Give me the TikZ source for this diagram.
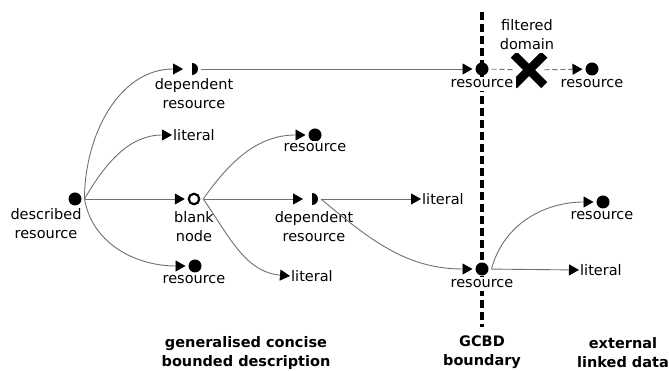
\documentclass[tikz,border=0pt]{standalone}
\usepackage{fontspec}
\setmainfont{DejaVu Sans}
\usepackage{xcolor}
\usetikzlibrary{arrows.meta,shapes.misc}
\definecolor{linkgray}{HTML}{707070}
\newcommand{\picfont}{\fontsize{14.5}{19}\selectfont}
\tikzset{
  link/.style={draw=linkgray, line width=0.9pt, -{Triangle[length=10pt,width=11pt,color=black]}},
  filtered/.style={link, dash pattern=on 5pt off 3pt},
  boundary/.style={draw=black, line width=3.5pt, dash pattern=on 8pt off 4pt},
  resdot/.style={circle, fill=black, minimum size=13pt, inner sep=0pt, outer sep=3pt},
  blankdot/.style={circle, draw=black, line width=2.2pt, fill=white, minimum size=10.5pt, inner sep=0pt, outer sep=4pt},
  halfdot/.style={circle, minimum size=12pt, inner sep=0pt, outer sep=3pt,
    path picture={\fill[black] (path picture bounding box.north) arc[start angle=90,end angle=-90,radius=6pt] -- cycle;}},
  litnode/.style={anchor=west, inner sep=1pt},
  lab/.style={align=center, inner sep=3pt, fill=white},
  heading/.style={align=center, inner sep=0pt, font=\picfont\bfseries},
  cut/.style={cross out, draw=black, line width=8.5pt, minimum size=22pt, inner sep=0pt},
}

\begin{document}
\begin{tikzpicture}[x=1pt,y=1pt,font=\picfont]
\useasboundingbox (0,0) rectangle (669,371);

% GCBD boundary
\coordinate (btop) at (482,359);
\coordinate (bbot) at (482,44);
\draw[boundary] (btop) -- (bbot);

% resources and literals
\node[resdot] (desc) at (75,172) {};
\node[halfdot] (dep1) at (192,302) {};
\node[litnode] (lit1) at (172,236) {literal};
\node[resdot] (res1) at (315,236) {};
\node[blankdot] (blank) at (194,172) {};
\node[resdot] (res2) at (195,105) {};
\node[halfdot] (dep2) at (312,172) {};
\node[litnode] (lit2) at (290,95) {literal};
\node[resdot] (res3) at (482,302) {};
\node[cut] (cross) at (529,301) {};
\node[resdot] (res4) at (592,302) {};
\node[litnode] (lit3) at (421,172) {literal};
\node[resdot] (res5) at (482,102) {};
\node[resdot] (res6) at (603,169) {};
\node[litnode] (lit4) at (579,101) {literal};

% labels
\node[lab] (descl) at (46,147) {described\\resource};
\node[lab] (dep1l) at (194,277) {dependent\\resource};
\node[lab] (res1l) at (315,223) {resource};
\node[lab] (blankl) at (194,144) {blank\\node};
\node[lab] (res2l) at (194,91) {resource};
\node[lab] (dep2l) at (314,144) {dependent\\resource};
\node[lab] (res3l) at (482,287) {resource};
\node[lab] (res4l) at (592,287) {resource};
\node[lab] (filtl) at (527,336) {filtered\\domain};
\node[lab] (res5l) at (482,87) {resource};
\node[lab] (res6l) at (602,155) {resource};

\node[heading] (gcbd) at (246,18) {generalised concise\\bounded description};
\node[heading] (bound) at (482,18.5) {GCBD\\boundary};
\node[heading] (ext) at (623,18) {external\\linked data};

% links
\draw[link] (desc.east) to[out=90,in=180] (dep1);
\draw[link] (desc.east) to[out=60,in=180] (lit1.west);
\draw[link] (desc) -- (blank);
\draw[link] (desc.east) to[out=-80,in=180] (res2);
\draw[link] (blank.east) to[out=55,in=180] (res1);
\draw[link] (blank) -- (dep2);
\draw[link] (blank.east) to[out=-55,in=175] (lit2.west);
\draw[link] (dep1) -- (res3);
\draw[link] (dep2) -- (lit3.west);
\draw[link] (dep2.east) to[out=-40,in=180] (res5);
\draw[filtered,-] (res3) -- (cross);
\draw[filtered] (cross) -- (res4);
\draw[link] (res5.east) to[out=75,in=180] (res6);
\draw[link] (res5) -- (lit4.west);
\end{tikzpicture}
\end{document}
